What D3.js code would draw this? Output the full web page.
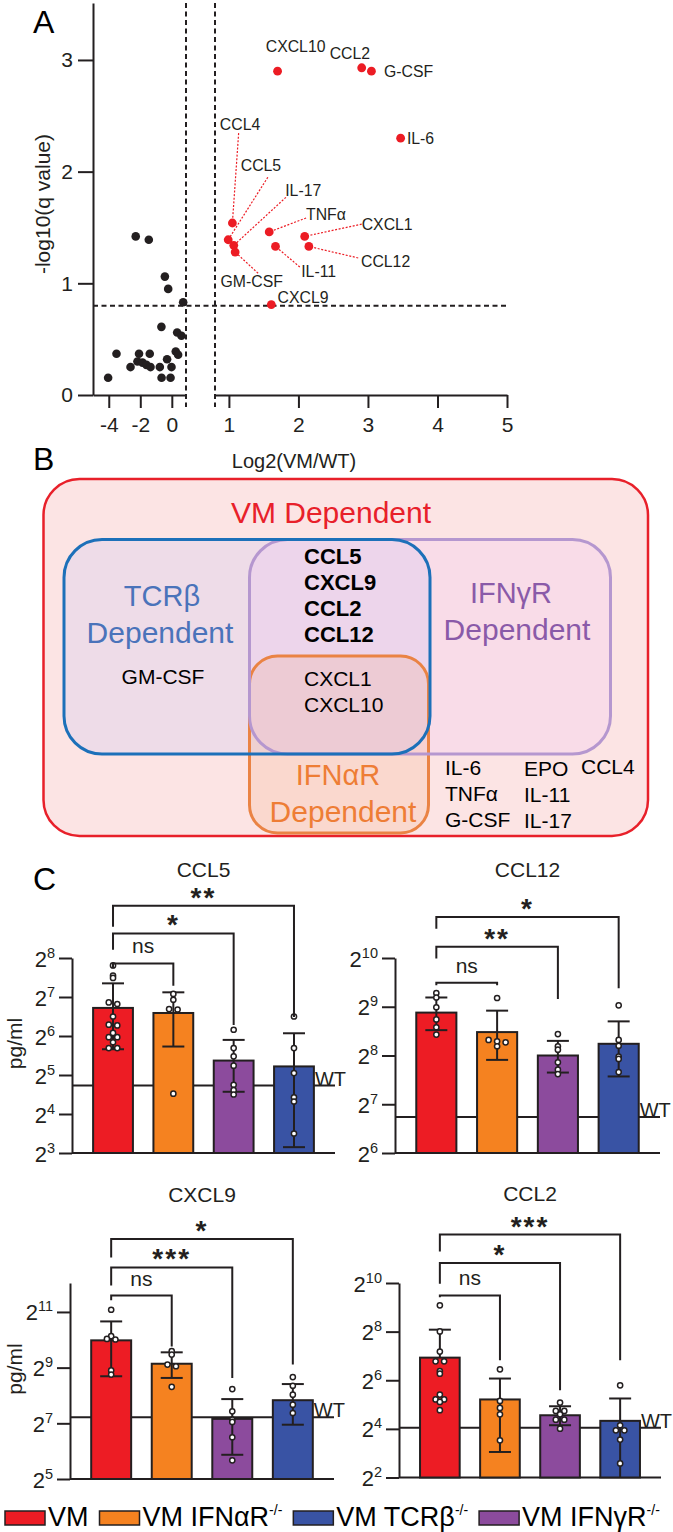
<!DOCTYPE html>
<html>
<head>
<meta charset="utf-8">
<title>VM cytokines</title>
<script src="https://cdn.jsdelivr.net/npm/d3@7"></script>
<style>
body { margin: 0; background: #fff; }
svg { display: block; font-family: "Liberation Sans", Arial, sans-serif; }
</style>
</head>
<body>
<svg id="fig" width="673" height="1532"></svg>
<script>
// ---------------- panel A : volcano data ----------------
var blackX = [-2.29, -1.46, -0.44, -0.23, 0.72, -0.66, 0.34, 0.61, -3.51, -2.08, -1.40, -2.18,
              -1.86, -1.61, -1.35, -2.62, -0.76, -0.30, -0.02, 0.25, 0.40, -4.04, -0.65, -0.08];
var blackY = [1.42, 1.39, 1.06, 0.95, 0.83, 0.61, 0.56, 0.53, 0.37, 0.37, 0.37, 0.30,
              0.29, 0.27, 0.25, 0.25, 0.25, 0.32, 0.25, 0.39, 0.36, 0.155, 0.155, 0.155];

var redNames = ["CXCL10", "CCL2", "G-CSF", "IL-6", "CCL4", "CCL5", "IL-17", "GM-CSF", "TNFα", "IL-11", "CXCL1", "CCL12", "CXCL9"];
var redX     = [1.70, 2.91, 3.05, 3.47, 1.05, 0.99, 1.07, 1.09, 1.58, 1.67, 2.09, 2.15, 1.61];
var redY     = [2.90, 2.93, 2.90, 2.30, 1.54, 1.39, 1.34, 1.28, 1.46, 1.33, 1.42, 1.33, 0.81];
// label anchor (data units) and leader-line start (null = no leader)
var labelX   = [1.53, 2.45, 3.23, 3.56, 0.87, 1.17, 1.81, 0.88, 2.11, 2.04, 2.91, 2.90, 1.70];
var labelY   = [3.075, 3.01, 2.85, 2.25, 2.37, 2.01, 1.78, 0.964, 1.567, 1.054, 1.477, 1.149, 0.826];
var leadX    = [null, null, null, null, 1.14, 1.56, 1.82, 1.42, 2.11, 2.02, 2.91, 2.86, null];
var leadY    = [null, null, null, null, 2.345, 1.95, 1.77, 1.09, 1.585, 1.146, 1.53, 1.227, null];

var xTicksLeft = [-4, -2, 0];
var xTicksRight = [1, 2, 3, 4, 5];
var yTicksA = [0, 1, 2, 3];
var qCut = 0.8;

// ---------------- panel B : venn contents ----------------
var sharedBold = ["CCL5", "CXCL9", "CCL2", "CCL12"];
var sharedAll = ["CXCL1", "CXCL10"];
var tcrOnly = ["GM-CSF"];
var vmCol1 = ["IL-6", "TNFα", "G-CSF"];
var vmCol2 = ["EPO", "IL-11", "IL-17"];
var vmCol3 = ["CCL4"];

// ---------------- panel C : bar data (log2 pg/ml) ----------------
var groups = ["VM", "VM IFNαR", "VM IFNγR", "VM TCRβ"];

var ccl5Mean = [6.72, 6.59, 5.37, 5.22];
var ccl5Hi   = [7.35, 7.12, 5.90, 6.07];
var ccl5Lo   = [5.66, 5.73, 4.57, 3.15];
var ccl5Pts  = [[7.81, 7.55, 7.49, 6.86, 6.82, 6.50, 6.29, 6.27, 6.08, 5.97, 5.97, 5.84, 5.69, 5.69],
                [7.08, 6.93, 6.69, 6.68, 4.52],
                [6.16, 5.69, 5.48, 5.24, 4.75, 4.61, 4.50],
                [6.50, 5.69, 5.05, 4.43, 4.32, 3.50]];
var ccl5WT = 4.73;
var ccl5Ticks = [3, 4, 5, 6, 7, 8];
var ccl5Sig = [["ns", 1, 7.86, 7.74, 7.29], ["*", 2, 8.63, 8.21, 6.28], ["**", 3, 9.34, 8.80, 6.49]];

var ccl12Mean = [8.88, 8.48, 8.00, 8.24];
var ccl12Hi   = [9.19, 8.92, 8.30, 8.70];
var ccl12Lo   = [8.52, 7.91, 7.65, 7.57];
var ccl12Pts  = [[9.28, 9.19, 8.99, 8.74, 8.58, 8.43],
                 [9.18, 8.32, 8.29, 8.27, 8.19],
                 [8.44, 8.19, 8.12, 7.86, 7.71, 7.62],
                 [9.03, 8.32, 8.20, 7.98, 7.93, 7.66]];
var ccl12WT = 6.74;
var ccl12Ticks = [6, 7, 8, 9, 10];
var ccl12Sig = [["ns", 1, 9.49, 9.44, 9.44], ["**", 2, 10.23, 9.99, 9.16], ["*", 3, 10.84, 10.60, 9.38]];

var cxcl9Mean = [9.98, 9.14, 7.16, 7.83];
var cxcl9Hi   = [10.66, 9.55, 7.87, 8.41];
var cxcl9Lo   = [8.69, 8.63, 5.87, 6.95];
var cxcl9Pts  = [[11.08, 10.13, 10.03, 10.01, 8.90, 8.75],
                 [9.59, 9.47, 9.11, 9.05, 8.31],
                 [8.23, 7.43, 7.13, 7.05, 6.50, 5.67],
                 [8.66, 8.35, 8.03, 7.67, 7.37]];
var cxcl9WT = 7.22;
var cxcl9Ticks = [5, 7, 9, 11];
var cxcl9Sig = [["ns", 1, 11.59, 11.42, 9.76], ["***", 2, 12.60, 11.95, 8.63], ["*", 3, 13.62, 12.96, 9.11]];

var ccl2Mean = [6.93, 5.21, 4.56, 4.33];
var ccl2Hi   = [8.08, 6.07, 4.93, 5.25];
var ccl2Lo   = [null, 3.05, 4.15, 1.5];
var ccl2Pts  = [[9.08, 8.01, 7.18, 6.78, 6.78, 6.38, 6.27, 5.41, 5.21, 5.21, 5.11, 4.77],
                [6.45, 5.15, 4.86, 4.60, 3.53],
                [5.08, 4.74, 4.74, 4.60, 4.38, 4.38, 4.01],
                [5.79, 4.15, 3.94, 3.94, 3.56, 2.58]];
var ccl2WT = 4.05;
var ccl2Ticks = [2, 4, 6, 8, 10];
var ccl2Sig = [["ns", 1, 9.49, 9.41, 6.82], ["*", 2, 10.82, 9.97, 5.59], ["***", 3, 11.99, 11.30, 6.82]];

var legendOrder = [0, 1, 3, 2];

// ---------------- drawing ----------------
var ink = "#231f20";
var barColors = ["#ed1c24", "#f58220", "#8c4b9d", "#3953a4"];
var svg = d3.select("#fig");

function panelLetter(t, x, y) {
  svg.append("text").attr("x", x).attr("y", y).attr("font-size", 32).attr("fill", "#000").text(t);
}

// ===== A =====
var yA = d3.scaleLinear().domain([0, 3.51]).range([395, 3]);
var xL = d3.scaleLinear().domain([-5, 0.9]).range([93, 186]);
var xR = d3.scaleLinear().domain([0.8, 5]).range([215, 507]);
var gA = svg.append("g");

function styleAxis(g, fs) {
  g.selectAll("path, line").attr("stroke", ink).attr("stroke-width", 2);
  g.selectAll("text").attr("font-size", fs).attr("fill", ink).attr("font-family", null);
}

gA.append("g").attr("transform", "translate(93,0)")
  .call(d3.axisLeft(yA).tickValues(yTicksA).tickSize(15).tickSizeOuter(0).tickPadding(5).tickFormat(d3.format("d")))
  .call(styleAxis, 21);
gA.append("g").attr("transform", "translate(0,395)")
  .call(d3.axisBottom(xL).tickValues(xTicksLeft).tickSize(13).tickSizeOuter(0).tickPadding(9).tickFormat(d3.format("d")))
  .call(styleAxis, 21);
gA.append("g").attr("transform", "translate(0,395)")
  .call(d3.axisBottom(xR).tickValues(xTicksRight).tickSize(13).tickSizeOuter(0).tickPadding(9).tickFormat(d3.format("d")))
  .call(styleAxis, 21);
gA.selectAll(".tick text").filter(function(d) { return d < 0; }).text(function(d) { return "-" + Math.abs(d); });

var dash = "5,3.5";
gA.append("line").attr("x1", xL(0.9)).attr("x2", xL(0.9)).attr("y1", yA(3.51)).attr("y2", 407)
  .attr("stroke", ink).attr("stroke-width", 2).attr("stroke-dasharray", dash);
gA.append("line").attr("x1", xR(0.8)).attr("x2", xR(0.8)).attr("y1", yA(3.51)).attr("y2", 407)
  .attr("stroke", ink).attr("stroke-width", 2).attr("stroke-dasharray", dash);
gA.append("line").attr("x1", 93).attr("x2", 509).attr("y1", yA(qCut)).attr("y2", yA(qCut))
  .attr("stroke", ink).attr("stroke-width", 2).attr("stroke-dasharray", dash);

gA.selectAll(".blk").data(blackX).enter().append("circle")
  .attr("cx", function(d) { return xL(d); })
  .attr("cy", function(d, i) { return yA(blackY[i]); })
  .attr("r", 4.3).attr("fill", ink);

gA.selectAll(".lead").data(redNames).enter().filter(function(d, i) { return leadX[i] !== null; })
  .append("line")
  .attr("x1", function(d) { var i = redNames.indexOf(d); return xR(leadX[i]); })
  .attr("y1", function(d) { var i = redNames.indexOf(d); return yA(leadY[i]); })
  .attr("x2", function(d) { var i = redNames.indexOf(d); return xR(redX[i]); })
  .attr("y2", function(d) { var i = redNames.indexOf(d); return yA(redY[i]); })
  .attr("stroke", "#ec1c24").attr("stroke-width", 1.2).attr("stroke-dasharray", "2,1.6");

gA.selectAll(".red").data(redNames).enter().append("circle")
  .attr("cx", function(d, i) { return xR(redX[i]); })
  .attr("cy", function(d, i) { return yA(redY[i]); })
  .attr("r", 4.4).attr("fill", "#ec1c24");

gA.selectAll(".lab").data(redNames).enter().append("text")
  .attr("x", function(d, i) { return xR(labelX[i]); })
  .attr("y", function(d, i) { return yA(labelY[i]); })
  .attr("font-size", 15.8).attr("fill", ink)
  .text(function(d) { return d; });

gA.append("text").attr("x", 294).attr("y", 468).attr("text-anchor", "middle")
  .attr("font-size", 20).attr("fill", ink).text("Log2(VM/WT)");
gA.append("text").attr("transform", "translate(50,204) rotate(-90)").attr("text-anchor", "middle")
  .attr("font-size", 21).attr("fill", ink).text("-log10(q value)");
panelLetter("A", 33, 33);

// ===== B =====
var gB = svg.append("g");
panelLetter("B", 33, 470);
gB.append("rect").attr("x", 43.5).attr("y", 479).attr("width", 604.5).attr("height", 357).attr("rx", 36)
  .attr("fill", "#fce4e4").attr("stroke", "#e8202a").attr("stroke-width", 2.5);

var sets = [
  { x: 64, y: 539.5, w: 366, h: 214.5, rx: 38, fill: "rgb(159,175,255)", stroke: "#1c70b9" },
  { x: 249.5, y: 539.5, w: 361, h: 214.5, rx: 38, fill: "rgb(232,175,255)", stroke: "#b597cf" },
  { x: 249.5, y: 656, w: 179, h: 177, rx: 28, fill: "rgb(239,148,81)", stroke: "#ea8344" }
];
sets.forEach(function(s) {
  gB.append("rect").attr("x", s.x).attr("y", s.y).attr("width", s.w).attr("height", s.h).attr("rx", s.rx)
    .attr("fill", s.fill).attr("fill-opacity", 0.15);
});
[2, 1, 0].forEach(function(k) {
  var s = sets[k];
  gB.append("rect").attr("x", s.x).attr("y", s.y).attr("width", s.w).attr("height", s.h).attr("rx", s.rx)
    .attr("fill", "none").attr("stroke", s.stroke).attr("stroke-width", 3);
});

function bText(t, x, y, fs, col, anchor, weight) {
  gB.append("text").attr("x", x).attr("y", y).attr("font-size", fs).attr("fill", col)
    .attr("text-anchor", anchor || "start").attr("font-weight", weight || null).text(t);
}
bText("VM Dependent", 331, 523, 30, "#e8202a", "middle");
bText("TCRβ", 162, 606, 29, "#4a73ba", "middle");
bText("Dependent", 160, 643, 30, "#4a73ba", "middle");
bText("IFNγR", 511, 603, 29, "#8a5aa8", "middle");
bText("Dependent", 517, 640, 30, "#8a5aa8", "middle");
bText("IFNαR", 338, 785, 29, "#ee7d35", "middle");
bText("Dependent", 343, 822, 30, "#ee7d35", "middle");
tcrOnly.forEach(function(t) { bText(t, 163, 684, 21, "#000", "middle"); });
sharedBold.forEach(function(t, i) { bText(t, 304, 564 + i * 26, 22, "#000", "start", "bold"); });
sharedAll.forEach(function(t, i) { bText(t, 304, 686 + i * 26, 21, "#000"); });
vmCol1.forEach(function(t, i) { bText(t, 445, 775 + i * 26, 21, "#000"); });
vmCol2.forEach(function(t, i) { bText(t, 524, 776 + i * 26, 21, "#000"); });
vmCol3.forEach(function(t, i) { bText(t, 581, 774 + i * 26, 21, "#000"); });

// ===== C =====
panelLetter("C", 33, 890);

function drawBars(c) {
  var g = svg.append("g");
  var ys = d3.scaleLinear().domain(c.domain).range([c.y0, c.y1]);
  var xb = d3.scaleBand().domain(d3.range(groups.length)).range([c.x0, c.x1]).paddingInner(0.34).paddingOuter(0.35);
  var bw = xb.bandwidth();
  var cx = function(i) { return xb(i) + bw / 2; };

  g.append("text").attr("x", (c.x0 + c.x1) / 2).attr("y", c.titleY + 7.5).attr("text-anchor", "middle")
    .attr("font-size", 21).attr("fill", ink).text(c.title);

  // WT reference line and label, behind the bars
  g.append("line").attr("x1", c.x0).attr("x2", c.x1).attr("y1", ys(c.wt)).attr("y2", ys(c.wt))
    .attr("stroke", ink).attr("stroke-width", 2);
  g.append("text").attr("x", xb(3) + bw + 1).attr("y", ys(c.wt)).attr("font-size", 20).attr("fill", ink).text("WT");

  var ax = g.append("g").attr("transform", "translate(" + c.x0 + ",0)")
    .call(d3.axisLeft(ys).tickValues(c.ticks).tickSize(13).tickSizeOuter(0).tickPadding(4))
    .call(styleAxis, 22);
  ax.selectAll(".tick text").text(null).attr("dy", null).attr("y", 8)
    .each(function(d) {
      var t = d3.select(this);
      t.append("tspan").text("2");
      t.append("tspan").attr("dy", -9).attr("font-size", 14.5).text(d);
    });
  g.append("line").attr("x1", c.x0).attr("x2", c.x1).attr("y1", c.y0).attr("y2", c.y0)
    .attr("stroke", ink).attr("stroke-width", 2);

  g.selectAll(".bar").data(c.mean).enter().append("rect")
    .attr("x", function(d, i) { return xb(i); })
    .attr("y", function(d) { return ys(d); })
    .attr("width", bw)
    .attr("height", function(d) { return c.y0 - ys(d); })
    .attr("fill", function(d, i) { return barColors[i]; })
    .attr("stroke", ink).attr("stroke-width", 2);

  // error bars
  c.mean.forEach(function(m, i) {
    var lo = c.lo[i], hi = c.hi[i];
    var yLo = lo === null ? ys(m) : Math.min(ys(lo), c.y0);
    g.append("line").attr("x1", cx(i)).attr("x2", cx(i)).attr("y1", ys(hi)).attr("y2", yLo)
      .attr("stroke", ink).attr("stroke-width", 2);
    g.append("line").attr("x1", cx(i) - 11).attr("x2", cx(i) + 11).attr("y1", ys(hi)).attr("y2", ys(hi))
      .attr("stroke", ink).attr("stroke-width", 2);
    if (lo !== null && lo >= c.domain[0]) {
      g.append("line").attr("x1", cx(i) - 11).attr("x2", cx(i) + 11).attr("y1", ys(lo)).attr("y2", ys(lo))
        .attr("stroke", ink).attr("stroke-width", 2);
    }
  });

  // points: values closer than 2px in y are spread side by side
  c.pts.forEach(function(vals, i) {
    var sorted = vals.slice().sort(function(a, b) { return b - a; });
    var rows = [];
    sorted.forEach(function(v) {
      var last = rows[rows.length - 1];
      if (last && Math.abs(ys(last[last.length - 1]) - ys(v)) < 2) last.push(v);
      else rows.push([v]);
    });
    rows.forEach(function(row) {
      row.forEach(function(v, k) {
        g.append("circle").attr("cx", cx(i) + (k - (row.length - 1) / 2) * 8.5).attr("cy", ys(v))
          .attr("r", 2.6).attr("fill", "#fff").attr("stroke", ink).attr("stroke-width", 1.5);
      });
    });
  });

  // significance brackets
  c.sig.forEach(function(s) {
    var xa = cx(0), xe = cx(s[1]);
    g.append("path")
      .attr("d", "M" + xa + "," + ys(s[3]) + "V" + ys(s[2]) + "H" + xe + "V" + ys(s[4]))
      .attr("fill", "none").attr("stroke", ink).attr("stroke-width", 2);
    var isNs = s[0] === "ns";
    g.append("text").attr("x", (xa + xe) / 2).attr("y", ys(s[2]) + (isNs ? -10 : 1))
      .attr("text-anchor", "middle").attr("font-size", isNs ? 21 : 28)
      .attr("font-weight", isNs ? null : "bold").attr("letter-spacing", isNs ? null : 2)
      .attr("fill", ink).text(s[0]);
  });

  if (c.ylabel) {
    g.append("text").attr("transform", "translate(22," + ((c.y0 + c.y1) / 2 - 12) + ") rotate(-90)")
      .attr("text-anchor", "middle").attr("font-size", 21).attr("fill", ink).text("pg/ml");
  }
}

drawBars({ title: "CCL5", mean: ccl5Mean, hi: ccl5Hi, lo: ccl5Lo, pts: ccl5Pts, wt: ccl5WT, ticks: ccl5Ticks, sig: ccl5Sig,
  domain: [3, 8], x0: 72, x1: 335, y0: 1153, y1: 958, titleY: 869, ylabel: true });
drawBars({ title: "CCL12", mean: ccl12Mean, hi: ccl12Hi, lo: ccl12Lo, pts: ccl12Pts, wt: ccl12WT, ticks: ccl12Ticks, sig: ccl12Sig,
  domain: [6, 10], x0: 395, x1: 660, y0: 1153, y1: 958, titleY: 869 });
drawBars({ title: "CXCL9", mean: cxcl9Mean, hi: cxcl9Hi, lo: cxcl9Lo, pts: cxcl9Pts, wt: cxcl9WT, ticks: cxcl9Ticks, sig: cxcl9Sig,
  domain: [5, 12.04], x0: 70, x1: 334, y0: 1479, y1: 1283, titleY: 1194, ylabel: true });
drawBars({ title: "CCL2", mean: ccl2Mean, hi: ccl2Hi, lo: ccl2Lo, pts: ccl2Pts, wt: ccl2WT, ticks: ccl2Ticks, sig: ccl2Sig,
  domain: [2, 10], x0: 399, x1: 661, y0: 1477.5, y1: 1283, titleY: 1193 });

// legend
var gL = svg.append("g");
var lx = 5;
legendOrder.forEach(function(i) {
  gL.append("rect").attr("x", lx).attr("y", 1511).attr("width", 40).attr("height", 14)
    .attr("fill", barColors[i]).attr("stroke", ink).attr("stroke-width", 1.5);
  var t = gL.append("text").attr("x", lx + 43).attr("y", 1526).attr("font-size", 27).attr("fill", "#000");
  t.append("tspan").text(groups[i]);
  if (i > 0) t.append("tspan").attr("dy", -11).attr("font-size", 14).text("-/-");
  lx += 43 + t.node().getComputedTextLength() + 11;
});
</script>
</body>
</html>
